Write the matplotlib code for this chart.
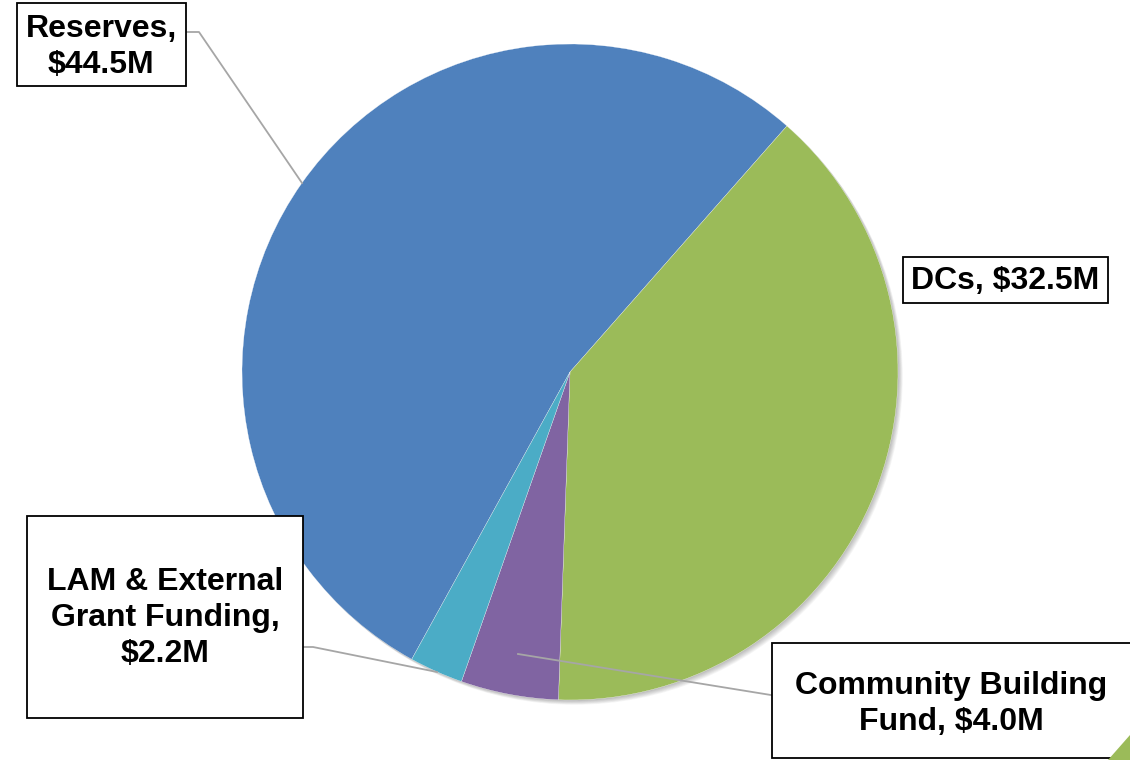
import matplotlib.pyplot as plt
from matplotlib.patches import Rectangle, Circle, Polygon

plt.rcParams['font.family'] = ['Liberation Sans', 'DejaVu Sans']

# data
labels = ['Reserves', 'DCs', 'Community Building\nFund', 'LAM & External\nGrant Funding']
values = [44.5, 32.5, 4.0, 2.2]
colors = ['#4F81BD', '#9BBB59', '#8064A2', '#4BACC6']
label_text = ['Reserves,\n$44.5M', 'DCs, $32.5M', 'Community Building\nFund, $4.0M',
              'LAM & External\nGrant Funding,\n$2.2M']

W, H = 1130, 760
CX, CY, R = 570, 372, 328


def px(x, y):
    # pixel position (from top-left) -> data units of the pie
    return (x - CX) / R, (CY - y) / R


fig = plt.figure(figsize=(W / 100, H / 100), dpi=100)
ax = fig.add_axes([0, 0, 1, 1])

# soft shadow under the pie
for i in range(1, 9):
    ax.add_patch(Circle((i * 0.6 / R, -i * 0.6 / R), 1.0, color='black',
                        alpha=0.035, lw=0, zorder=0))

total = sum(values)
start = 48.6 + values[0] / total * 360
ax.pie(values, colors=colors, startangle=start, counterclock=False,
       radius=1.0, center=(0, 0), frame=True,
       wedgeprops=dict(edgecolor='white', linewidth=0.2))
ax.set_xlim(px(0, 0)[0], px(W, 0)[0])
ax.set_ylim(px(0, H)[1], px(0, 0)[1])
ax.set_aspect('auto')
ax.axis('off')

# label boxes (left, top, right, bottom) in pixels, text centres
boxes = [(17, 3, 186, 86), (903, 257, 1108, 303), (772, 643, 1145, 758), (27, 516, 303, 718)]
centers = [(101, 47), (1005, 281), (951, 704), (165, 618)]
leaders = [[(187, 32), (199, 32), (302, 183)],
           None,
           [(777, 696), (518, 654)],
           [(303, 647), (313, 647), (437, 672)]]

for (l, t, r, b), (tx, ty), txt, lead in zip(boxes, centers, label_text, leaders):
    x0, y0 = px(l, b)
    x1, y1 = px(r, t)
    ax.add_patch(Rectangle((x0, y0), x1 - x0, y1 - y0, facecolor='white',
                           edgecolor='black', lw=1.3, zorder=5, clip_on=False))
    x, y = px(tx, ty)
    ax.text(x, y, txt, ha='center', va='center', fontsize=23, fontweight='bold',
            linespacing=1.28, zorder=6)
    if lead:
        pts = [px(a, c) for a, c in lead]
        ax.plot([p[0] for p in pts], [p[1] for p in pts], color='#A6A6A6',
                lw=1.3, zorder=4)

# little green corner mark
fig.patches.append(Polygon([(1108 / W, 0), (1.0, 25 / H), (1.0, 0)],
                           closed=True, transform=fig.transFigure,
                           facecolor='#9BBB59', edgecolor='none', zorder=10))

fig.savefig('out.png', dpi=100)
